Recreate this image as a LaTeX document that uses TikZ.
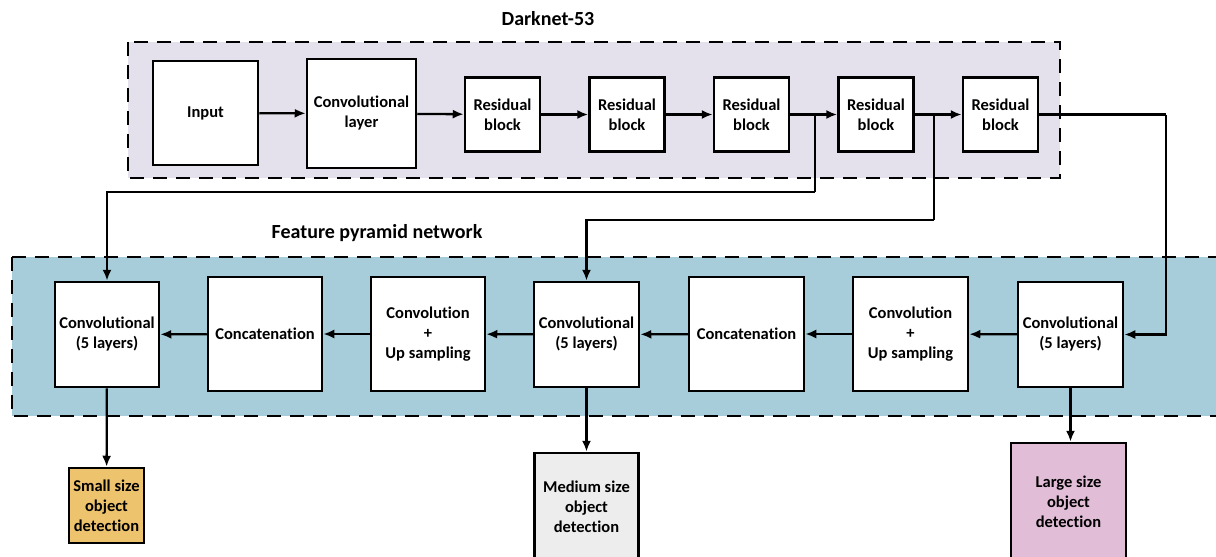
\documentclass[tikz,border=0pt]{standalone}
\usepackage{fontspec}
\setmainfont{Carlito}[Ligatures={NoCommon}]
\usetikzlibrary{arrows.meta}
\definecolor{dkbg}{HTML}{E5E1EC}
\definecolor{fpnbg}{HTML}{A6CDD9}
\definecolor{smallc}{HTML}{EEC36E}
\definecolor{medc}{HTML}{EDEDED}
\definecolor{largec}{HTML}{E1BDD7}
\tikzset{
  blk/.style={draw=black, line width=2.5pt, fill=white, align=center, inner sep=0pt,
    font=\fontsize{16.5}{20}\selectfont\bfseries},
  arr/.style={line width=2.3pt, -{Latex[length=11pt,width=9pt]}},
  ln/.style={line width=2.3pt},
  region/.style={draw=black, line width=2.5pt, dash pattern=on 14pt off 9pt},
  ttl/.style={font=\fontsize{20}{24}\selectfont\bfseries}
}
\begin{document}
\begin{tikzpicture}[x=1pt,y=-1pt]
\useasboundingbox (0,0) rectangle (1216,557);
\clip (0,0) rectangle (1216,557);
% regions
\fill[dkbg] (128,42) rectangle (1060,178);
\draw[region] (128,42) rectangle (1060,178);
\fill[fpnbg] (12,257) rectangle (1240,416);
\draw[region] (12,257) rectangle (1240,416);
\node[ttl] (t1) at (548,19) {Darknet-53};
\node[ttl] (t2) at (377,233) {Feature pyramid network};
% top row
\node[blk, minimum width=105pt, minimum height=104pt] (in) at (205.5,113) {Input};
\node[blk, minimum width=109pt, minimum height=109pt] (cv) at (361.5,113.5) {Convolutional\\layer};
\node[blk, minimum width=75pt, minimum height=74pt] (r1) at (502.5,114.5) {Residual\\block};
\node[blk, minimum width=75pt, minimum height=74pt] (r2) at (627,114.5) {Residual\\block};
\node[blk, minimum width=75pt, minimum height=74pt] (r3) at (751.5,114.5) {Residual\\block};
\node[blk, minimum width=75pt, minimum height=74pt] (r4) at (876,114.5) {Residual\\block};
\node[blk, minimum width=75pt, minimum height=74pt] (r5) at (1000.5,114.5) {Residual\\block};
% fpn row
\node[blk, minimum width=104pt, minimum height=105pt] (cs) at (107,334.5) {Convolutional\\(5 layers)};
\node[blk, minimum width=114pt, minimum height=114pt] (cc1) at (265,334) {Concatenation};
\node[blk, minimum width=114pt, minimum height=114pt] (cu1) at (428,334) {Convolution\\+\\Up sampling};
\node[blk, minimum width=105pt, minimum height=105pt] (cm) at (586.5,334.5) {Convolutional\\(5 layers)};
\node[blk, minimum width=115pt, minimum height=114pt] (cc2) at (746.5,334) {Concatenation};
\node[blk, minimum width=115pt, minimum height=114pt] (cu2) at (910.5,334) {Convolution\\+\\Up sampling};
\node[blk, minimum width=105pt, minimum height=105pt] (cl) at (1070.5,334.5) {Convolutional\\(5 layers)};
% outputs
\node[blk, fill=smallc, minimum width=75pt, minimum height=75pt] (os) at (106.5,505.5) {Small size\\object\\detection};
\node[blk, fill=medc, minimum width=104pt, minimum height=108pt] (om) at (586.5,507) {Medium size\\object\\detection};
\node[blk, fill=largec, minimum width=115pt, minimum height=118pt] (ol) at (1068.5,502) {Large size\\object\\detection};
% top connectors
\draw[arr] (in) -- (cv);
\draw[arr] (cv) -- (r1);
\draw[arr] (r1) -- (r2);
\draw[arr] (r2) -- (r3);
\draw[arr] (r3) -- (r4);
\draw[arr] (r4) -- (r5);
% branches
\coordinate (b1) at (815,114.5);
\coordinate (k1) at (815,192);
\coordinate (b2) at (934,114.5);
\coordinate (k2) at (934,220);
\coordinate (k3) at (1166,114.5);
\draw[ln] (b1) -- (k1);
\draw[arr] (k1) -| (cs.north);
\draw[ln] (b2) -- (k2);
\draw[arr] (k2) -| (cm.north);
\draw[ln] (r5.east) -- (k3);
\draw[arr] (k3) |- (cl.east);
% fpn connectors
\draw[arr] (cl) -- (cu2);
\draw[arr] (cu2) -- (cc2);
\draw[arr] (cc2) -- (cm);
\draw[arr] (cm) -- (cu1);
\draw[arr] (cu1) -- (cc1);
\draw[arr] (cc1) -- (cs);
% outputs
\draw[arr] (cs) -- (os);
\draw[arr] (cm) -- (om);
\draw[arr] (cl.south) -- (cl.south |- ol.north);
\end{tikzpicture}
\end{document}
